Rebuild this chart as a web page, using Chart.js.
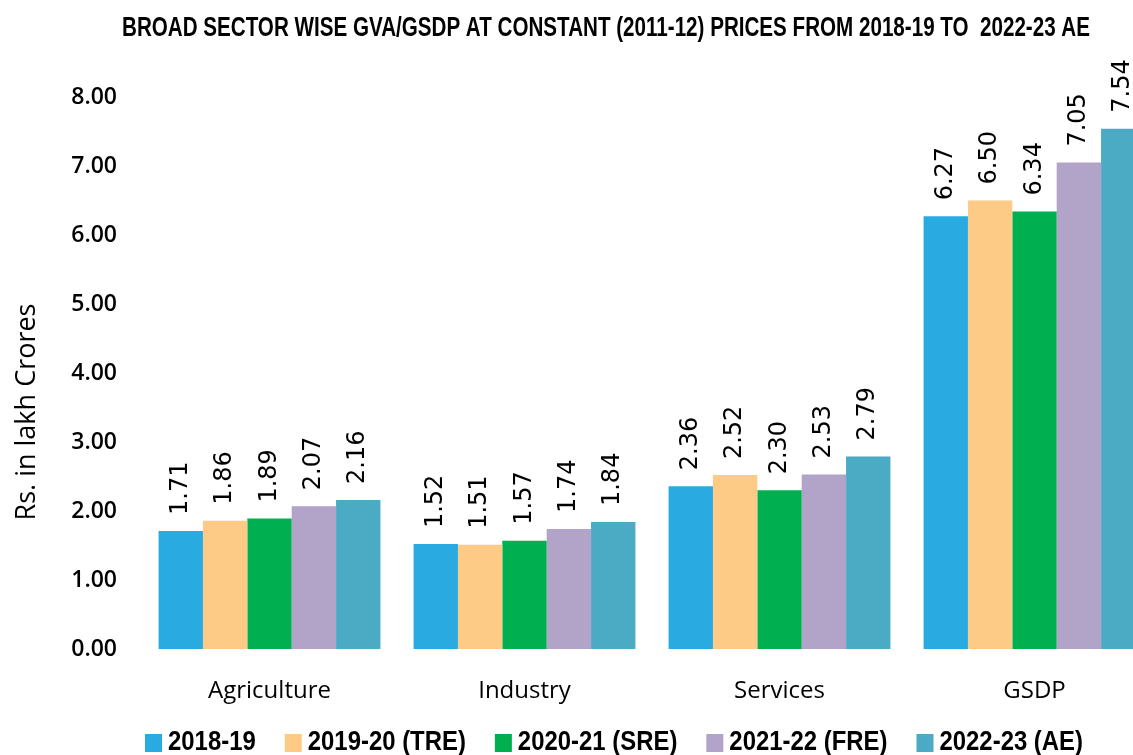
<!DOCTYPE html>
<html>
<head>
<meta charset="utf-8">
<script src="https://cdn.jsdelivr.net/npm/chart.js@4.4.0/dist/chart.umd.min.js"></script>
<style>
  html, body { margin: 0; padding: 0; background: #fff; overflow: hidden; }
  #wrap { width: 1162px; height: 755px; }
</style>
</head>
<body>
<div id="wrap"><canvas id="myChart"></canvas></div>
<script>
// categories and series
const sectors = ["Agriculture", "Industry", "Services", "GSDP"];
const years = ["2018-19", "2019-20 (TRE)", "2020-21 (SRE)", "2021-22 (FRE)", "2022-23 (AE)"];
const v2018 = [1.71, 1.52, 2.36, 6.27];
const v2019 = [1.86, 1.51, 2.52, 6.50];
const v2020 = [1.89, 1.57, 2.30, 6.34];
const v2021 = [2.07, 1.74, 2.53, 7.05];
const v2022 = [2.16, 1.84, 2.79, 7.54];
const yTicks = [0, 1, 2, 3, 4, 5, 6, 7, 8];

const chartTitle = 'BROAD SECTOR WISE GVA/GSDP AT CONSTANT (2011-12) PRICES FROM 2018-19 TO  2022-23 AE';
const yTitle = 'Rs. in lakh Crores';
const colors = ["#29ABE2", "#FDCB86", "#00AF50", "#B2A3C8", "#4BAAC4"];
const allValues = [v2018, v2019, v2020, v2021, v2022];

// rotated value labels above bars
const barLabels = {
    id: 'barLabels',
    afterDatasetsDraw(chart) {
        const ctx = chart.ctx;
        ctx.save();
        ctx.font = '24px "DejaVu Sans"';
        ctx.fillStyle = '#000';
        ctx.textAlign = 'left';
        ctx.textBaseline = 'middle';
        chart.data.datasets.forEach((ds, i) => {
            chart.getDatasetMeta(i).data.forEach((bar, j) => {
                ctx.save();
                ctx.translate(bar.x, bar.y - 16);
                ctx.rotate(-Math.PI / 2);
                ctx.fillText(ds.data[j].toFixed(2), 0, 0);
                ctx.restore();
            });
        });
        ctx.restore();
    }
};

// condensed title, y axis title and legend, drawn by hand
const extraText = {
    id: 'extraText',
    afterDraw(chart) {
        const ctx = chart.ctx;
        ctx.save();
        ctx.fillStyle = '#000';
        ctx.textAlign = 'center';
        ctx.textBaseline = 'middle';
        ctx.font = 'bold 27px "Liberation Sans Narrow", "Liberation Sans"';
        let w = ctx.measureText(chartTitle).width;
        ctx.translate(606, 29);
        ctx.scale(968 / w, 1);
        ctx.fillText(chartTitle, 0, 0);
        ctx.restore();

        ctx.save();
        ctx.fillStyle = '#000';
        ctx.textAlign = 'center';
        ctx.textBaseline = 'middle';
        ctx.font = '27px "Open Sans"';
        ctx.translate(27, 412);
        ctx.rotate(-Math.PI / 2);
        ctx.fillText(yTitle, 0, 0);
        ctx.restore();

        // legend
        ctx.save();
        ctx.font = 'bold 28px "Liberation Sans Narrow", "Liberation Sans"';
        ctx.textAlign = 'left';
        ctx.textBaseline = 'middle';
        const boxW = 17, boxH = 18, boxGap = 6, itemGap = 29;
        let widths = years.map(t => ctx.measureText(t).width);
        let textTotal = 938 - years.length * (boxW + boxGap) - (years.length - 1) * itemGap;
        let sx = textTotal / widths.reduce((a, b) => a + b, 0);
        let x = 614 - 938 / 2;
        const y = 742;
        years.forEach((t, i) => {
            ctx.fillStyle = colors[i];
            ctx.fillRect(x, y - boxH / 2 + 1, boxW, boxH);
            x += boxW + boxGap;
            ctx.save();
            ctx.fillStyle = '#000';
            ctx.translate(x, y);
            ctx.scale(sx, 1);
            ctx.fillText(t, 0, 0);
            ctx.restore();
            x += widths[i] * sx + itemGap;
        });
        ctx.restore();
    }
};

let ctx = document.getElementById('myChart').getContext('2d');
let myChart = new Chart(ctx, {
    type: 'bar',
    data: {
        labels: sectors,
        datasets: years.map((y, i) => ({
            label: y,
            data: allValues[i],
            backgroundColor: colors[i],
            borderWidth: 0,
            categoryPercentage: 0.87,
            barPercentage: 1.0
        }))
    },
    options: {
        responsive: true,
        maintainAspectRatio: false,
        animation: false,
        layout: { padding: { top: 97, left: 0, right: 0, bottom: 50 } },
        plugins: {
            title: { display: false },
            legend: { display: false },
            tooltip: { enabled: false }
        },
        scales: {
            x: {
                grid: { display: false, drawTicks: false },
                border: { display: false },
                afterFit: (axis) => { axis.height = 56; },
                ticks: {
                    color: '#000',
                    font: { family: '"Open Sans"', size: 24 },
                    padding: 28
                }
            },
            y: {
                min: 0,
                max: 8,
                grid: { display: false, drawTicks: false },
                border: { display: false },
                afterFit: (axis) => { axis.width = 142; },
                afterBuildTicks: (axis) => { axis.ticks = yTicks.map(v => ({ value: v })); },
                ticks: {
                    color: '#000',
                    font: { family: '"Open Sans"', size: 23, weight: '600' },
                    padding: 25,
                    callback: (v) => Number(v).toFixed(2)
                }
            }
        }
    },
    plugins: [barLabels, extraText]
});
</script>
</body>
</html>
